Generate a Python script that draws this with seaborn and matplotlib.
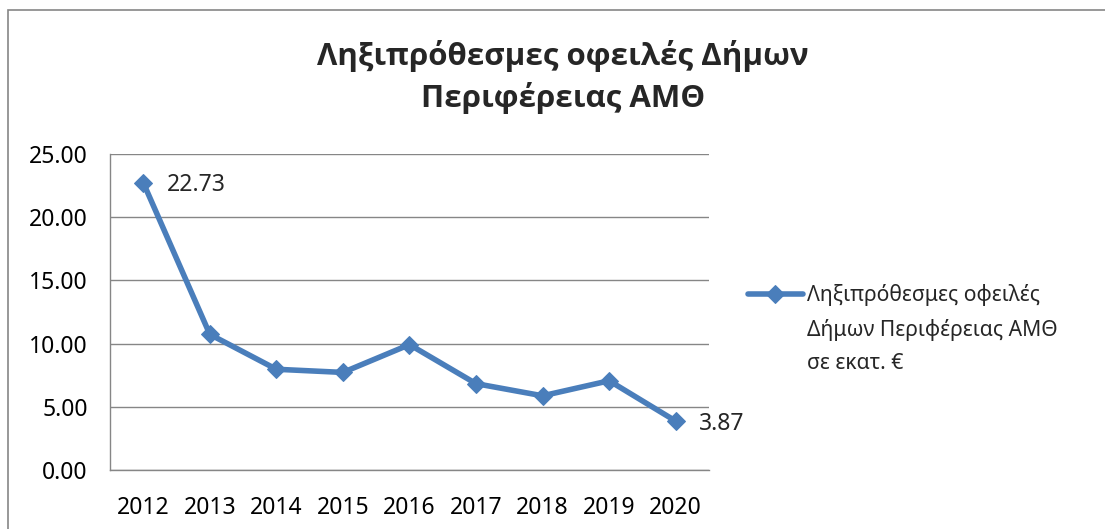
import matplotlib
matplotlib.use("Agg")
import matplotlib.pyplot as plt
import seaborn as sns
from matplotlib.lines import Line2D
from matplotlib.patches import Rectangle
from matplotlib.ticker import FormatStrFormatter

# values (million euro)
years = ['2012', '2013', '2014', '2015', '2016', '2017', '2018', '2019', '2020']
debts = [22.73, 10.73, 7.97, 7.72, 9.92, 6.83, 5.87, 7.06, 3.87]
labelled_years = ['2012', '2020']
y_ticks = [0, 5, 10, 15, 20, 25]

title_text = "Ληξιπρόθεσμες οφειλές Δήμων\nΠεριφέρειας ΑΜΘ"
legend_lines = ["Ληξιπρόθεσμες οφειλές", "Δήμων Περιφέρειας ΑΜΘ", "σε εκατ. €"]

LINE_COLOR = '#4A7EBB'
GRAY = '#868686'

sns.set_style('white')
plt.rcParams['font.family'] = ['Noto Sans', 'DejaVu Sans']

fig = plt.figure(figsize=(11.05, 5.29), dpi=100)
ax = fig.add_axes([110 / 1105, 1 - 470 / 529, 599 / 1105, 316 / 529])

sns.lineplot(x=years, y=debts, ax=ax, color=LINE_COLOR, linewidth=4,
             marker='D', markersize=9.5, markeredgecolor=LINE_COLOR, sort=False)

ax.set_xlim(-0.5, len(years) - 0.5)
ax.set_ylim(0, 25)
ax.set_yticks(y_ticks)
ax.yaxis.set_major_formatter(FormatStrFormatter('%.2f'))
ax.set_xlabel('')
ax.set_ylabel('')

# gridlines and axes
ax.yaxis.grid(True, color=GRAY, linewidth=1.0)
ax.xaxis.grid(False)
for side in ['top', 'right']:
    ax.spines[side].set_visible(False)
for side in ['left', 'bottom']:
    ax.spines[side].set_color(GRAY)
    ax.spines[side].set_linewidth(1.0)

ax.set_xticks([i - 0.5 for i in range(len(years) + 1)], minor=True)
ax.tick_params(axis='x', which='major', length=0, pad=19, labelsize=16.5, labelcolor='black')
ax.tick_params(axis='x', which='minor', length=5, width=1, color=GRAY, direction='out')
ax.tick_params(axis='y', which='major', length=5, width=1, color=GRAY, direction='out',
               pad=11, labelsize=16.5, labelcolor='black')

# data labels for first and last year
for i, (yr, val) in enumerate(zip(years, debts)):
    if yr in labelled_years:
        ax.annotate(f"{val:.2f}", xy=(i, val), xytext=(17, -2), textcoords='offset points',
                    va='center', ha='left', fontsize=16.5)

# title
fig.text(563 / 1105, 1 - 77 / 529, title_text, ha='center', va='center',
         fontsize=22.5, fontweight='bold', linespacing=1.4,
         family=['Open Sans', 'DejaVu Sans'])

# legend: first row carries the line, the rest are continuation lines
blank = Line2D([], [], color='none')
fig.legend([ax.lines[0], blank, blank], legend_lines, loc='upper left',
           bbox_to_anchor=(748 / 1105, 1 - 284 / 529), frameon=False, fontsize=15.2,
           handlelength=2.6, handletextpad=0.2, borderpad=0, borderaxespad=0,
           labelspacing=0.6)

# chart area border
fig.patches.append(Rectangle((8 / 1105, -0.1), 1.2, 1.1 - 10 / 529, transform=fig.transFigure,
                             fill=False, edgecolor=GRAY, linewidth=1.2))

fig.savefig('out.png', dpi=100)
